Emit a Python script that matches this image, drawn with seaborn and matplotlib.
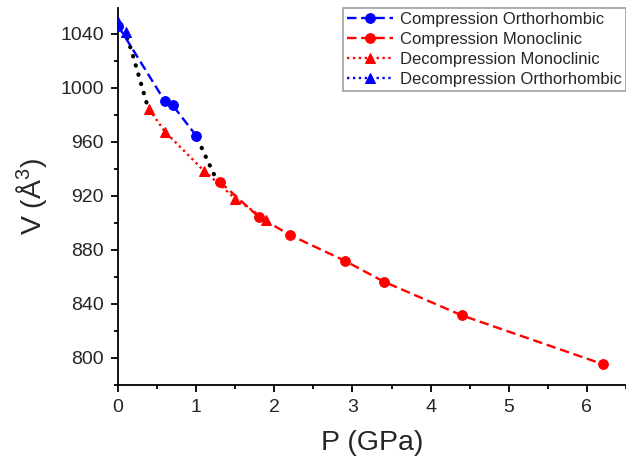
import matplotlib
matplotlib.use("Agg")
import matplotlib.pyplot as plt
import seaborn as sns
import pandas as pd

# Data
comp_ortho_P = [0.0, 0.6, 0.7, 1.0]
comp_ortho_V = [1046, 990, 987, 964.5]
comp_mono_P = [1.3, 1.8, 2.2, 2.9, 3.4, 4.4, 6.2]
comp_mono_V = [930.5, 904.5, 891, 872, 856.5, 831.5, 795.5]
decomp_mono_P = [0.4, 0.6, 1.1, 1.5, 1.9]
decomp_mono_V = [984, 967.5, 938.5, 918, 902]
decomp_ortho_P = [0.0, 0.1]
decomp_ortho_V = [1048.5, 1041]
# black guide (transition) curves
guide1_P = [0.12, 0.2, 0.28, 0.37]
guide1_V = [1037, 1022, 1006, 988]
guide2_P = [1.02, 1.13, 1.26]
guide2_V = [962, 948, 932]

sns.set_style("ticks")
plt.rcParams['font.family'] = ['Liberation Sans', 'DejaVu Sans']
plt.rcParams['mathtext.fontset'] = 'custom'
plt.rcParams['mathtext.rm'] = 'Liberation Sans'
plt.rcParams['mathtext.it'] = 'Liberation Sans:italic'

fig = plt.figure(figsize=(6.26, 4.63), dpi=100)
ax = fig.add_axes([118/626, 1-385/463, 1-118/626, (385-8)/463])

def draw(P, V, color, ls, marker, label, ms):
    df = pd.DataFrame({"P": P, "V": V})
    sns.lineplot(data=df, x="P", y="V", ax=ax, sort=False, color=color,
                 linestyle=ls, marker=marker, markersize=ms, linewidth=1.7,
                 markeredgecolor=color, label=label, zorder=3)

draw(comp_ortho_P, comp_ortho_V, "#0000ff", (0, (4, 2)), "o", "Compression Orthorhombic", 7)
draw(comp_mono_P, comp_mono_V, "#ff0000", (0, (4, 2)), "o", "Compression Monoclinic", 7)
draw(decomp_mono_P, decomp_mono_V, "#ff0000", (0, (1, 1.5)), "^", "Decompression Monoclinic", 7.5)
draw(decomp_ortho_P, decomp_ortho_V, "#0000ff", (0, (1, 1.5)), "^", "Decompression Orthorhombic", 7.5)

for gp, gv in [(guide1_P, guide1_V), (guide2_P, guide2_V)]:
    ax.plot(gp, gv, color="black", linestyle=(0, (0.1, 2.2)), linewidth=3,
            dash_capstyle="round", zorder=2)

ax.set_xlim(0, 6.44)
ax.set_ylim(780, 1059)
ax.set_xticks(range(0, 7))
ax.set_xticks([x + 0.5 for x in range(0, 7)], minor=True)
ax.set_yticks(range(800, 1041, 40))
ax.set_yticks(range(780, 1060, 20), minor=True)
ax.tick_params(axis='both', which='major', labelsize=14, length=5, width=1.3,
               direction='out', color='black', pad=5)
ax.tick_params(axis='both', which='minor', length=3, width=1.3, direction='out', color='black')
for s in ["top", "right"]:
    ax.spines[s].set_visible(False)
for s in ["left", "bottom"]:
    ax.spines[s].set_linewidth(1.3)
    ax.spines[s].set_color("black")

ax.set_xlabel("P (GPa)", fontsize=20.5, labelpad=10)
ax.set_ylabel("V ($\\mathrm{\\AA}^3$)", fontsize=20.5, labelpad=8)

leg = ax.legend(loc="upper right", fontsize=12, frameon=True, fancybox=False,
                edgecolor="#888888", borderaxespad=0, handlelength=2.8,
                handletextpad=0.4, labelspacing=0.3, borderpad=0.25)
leg.get_frame().set_linewidth(1.2)

fig.savefig("out.png", dpi=100)
